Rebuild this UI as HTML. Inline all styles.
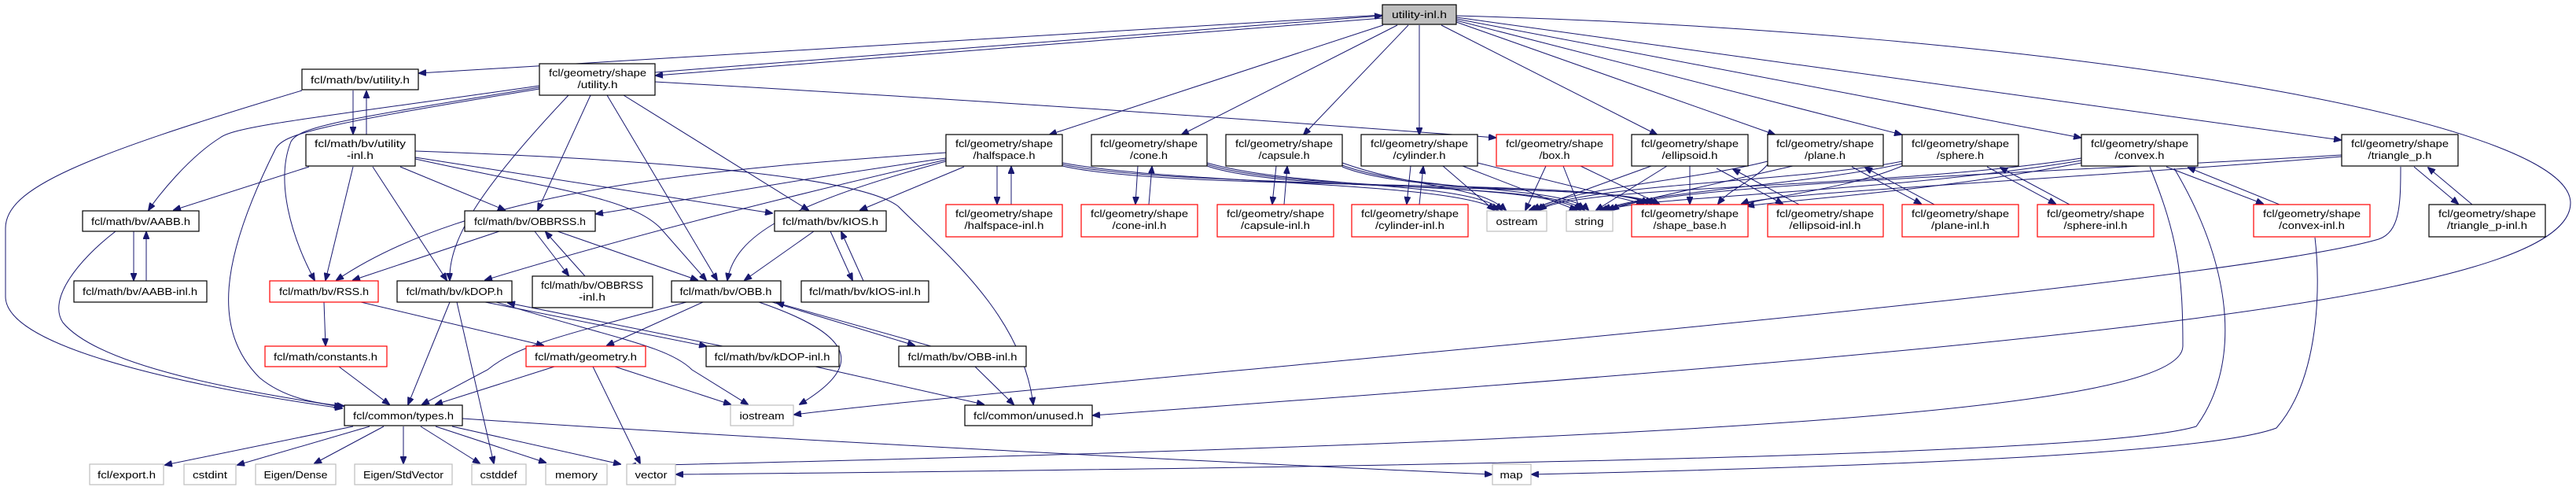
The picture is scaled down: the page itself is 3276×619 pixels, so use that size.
<!DOCTYPE html>
<html><head><meta charset="utf-8"><style>
html,body{margin:0;padding:0;background:#fff;}
svg{display:block;}
text{font-family:"Liberation Sans",sans-serif;font-size:13px;fill:#000;text-anchor:middle;}
.n{fill:#fff;stroke:#000;stroke-width:1.2;}
.r{fill:#fff;stroke:#ff0000;stroke-width:1.2;}
.g{fill:#fff;stroke:#bfbfbf;stroke-width:1.2;}
.e path,.e line{fill:none;stroke:#191970;stroke-width:1;marker-end:url(#a);}
</style></head><body>
<svg width="3276" height="619" viewBox="0 0 3276 619" xmlns="http://www.w3.org/2000/svg">
<defs><marker id="a" markerWidth="10" markerHeight="8" refX="9" refY="4" orient="auto" markerUnits="userSpaceOnUse"><path d="M0,0 L10,4 L0,8 z" fill="#191970" stroke="#191970"/></marker></defs>
<g class="e">
<!-- top node edges -->
<path d="M1758,19 L533,93"/>
<path d="M1758,23 L834,96"/>
<path d="M833,92 L1757,20"/>
<path d="M1759,32 L1335,171"/>
<path d="M1777,32 L1503,171"/>
<path d="M1791,32 L1658,171"/>
<path d="M1805,32 L1805,171"/>
<path d="M1833,32 L2107,171"/>
<path d="M1852,28 L2257,171"/>
<path d="M1852,26 L2418,171"/>
<path d="M1852,24 L2646,175"/>
<path d="M1852,22 L2977,178"/>
<path d="M1852,20 C2600,40 3269,150 3269,258 C3269,380 2600,440 1390,528"/>
<!-- bv/utility.h -->
<path d="M384,115 C100,200 7,240 7,290 L7,377 C7,450 300,500 435,519"/>
<path d="M449,115 L449,170"/>
<path d="M466,171 L466,116"/>
<!-- shape/utility.h -->
<path d="M686,109 C400,150 300,160 280,175 C240,200 200,250 189,267"/>
<path d="M686,111 C450,150 380,160 370,180 C350,230 370,300 400,356"/>
<path d="M686,113 C400,160 360,170 350,190 C280,330 270,420 330,480 C360,505 400,513 437,516"/>
<path d="M723,121 C620,230 570,300 572,356"/>
<path d="M751,121 L684,267"/>
<path d="M772,121 L912,356"/>
<path d="M793,121 L1028,267"/>
<path d="M833,104 C1300,130 1700,160 1902,175"/>
<!-- bv/utility-inl.h -->
<path d="M393,212 L221,267"/>
<path d="M449,212 L414,356"/>
<path d="M474,212 L568,356"/>
<path d="M509,212 L642,267"/>
<path d="M528,202 C700,240 800,250 840,290 L898,356"/>
<path d="M528,200 L982,271"/>
<path d="M528,192 C900,205 1100,230 1142,262 C1200,320 1300,400 1314,514"/>
<!-- AABB -->
<path d="M170,294 L170,356"/>
<path d="M186,357 L186,295"/>
<path d="M147,294 C100,330 60,380 80,410 C130,470 330,500 434,517"/>
<!-- OBBRSS -->
<path d="M635,294 L449,356"/>
<path d="M680,294 L723,350"/>
<path d="M744,351 L694,295"/>
<path d="M709,294 L887,356"/>
<!-- kIOS -->
<path d="M1035,294 L947,356"/>
<path d="M1056,294 L1084,356"/>
<path d="M1098,357 L1070,295"/>
<!-- RSS -->
<path d="M412,384 L414,439"/>
<path d="M459,384 L691,439"/>
<!-- kDOP -->
<path d="M572,384 L519,514"/>
<path d="M581,384 L628,589"/>
<path d="M617,384 L898,440"/>
<path d="M919,440 L646,385"/>
<path d="M631,384 C780,430 850,440 880,470 L951,514"/>
<!-- OBB -->
<path d="M873,384 C700,430 656,441 620,470 L537,514"/>
<path d="M894,384 L772,439"/>
<path d="M965,384 C1100,430 1090,470 1017,514"/>
<path d="M982,384 L1163,439"/>
<path d="M1184,440 L988,385"/>
<path d="M1240,466 L1289,514"/>
<path d="M1037,466 L1251,514"/>
<!-- constants, geometry -->
<path d="M431,466 L495,514"/>
<path d="M705,466 L554,514"/>
<path d="M782,466 L929,514"/>
<path d="M754,466 L814,589"/>
<!-- types -->
<path d="M449,542 L210,591"/>
<path d="M470,542 L302,591"/>
<path d="M488,542 L400,589"/>
<path d="M513,542 L513,589"/>
<path d="M535,542 L610,589"/>
<path d="M554,542 L694,588"/>
<path d="M575,542 L789,590"/>
<path d="M588,532 C1000,560 1600,590 1897,603"/>
<!-- triangle_p, convex long edges -->
<path d="M3053,212 C3053,260 3052,295 3025,304 C2800,370 1300,490 1010,527"/>
<path d="M2734,212 C2770,300 2776,350 2776,440 C2776,520 2200,560 800,592"/>
<path d="M2765,214 C2846,350 2846,470 2793,542 C2700,570 2200,590 860,603"/>
<path d="M2944,302 C2951,360 2951,480 2895,544 C2800,580 2300,595 1948,603"/>
<!-- halfspace -->
<path d="M1203,194 C900,215 600,240 428,356"/>
<path d="M1203,201 C1000,230 900,250 758,272"/>
<path d="M1203,203 C1000,250 800,300 617,356"/>
<path d="M1203,205 C1000,260 935,300 925,356"/>
<path d="M1226,212 L1094,267"/>
<path d="M1268,211 L1268,259"/>
<path d="M1286,260 L1286,212"/>
<path d="M1351,207 C1500,235 1850,230 1905,267"/>
<path d="M1351,209 C1500,240 1950,225 2010,267"/>
<path d="M1351,211 C1500,245 2050,225 2095,259"/>
<!-- cone -->
<path d="M1447,211 L1444,259"/>
<path d="M1461,260 L1465,212"/>
<path d="M1535,207 C1650,240 1870,230 1910,267"/>
<path d="M1535,209 C1650,245 1970,230 2015,267"/>
<path d="M1535,211 C1650,250 2060,230 2100,259"/>
<!-- capsule -->
<path d="M1623,211 L1618,259"/>
<path d="M1633,260 L1637,212"/>
<path d="M1707,207 C1800,240 1880,235 1915,267"/>
<path d="M1707,210 C1800,245 1990,235 2020,267"/>
<path d="M1707,212 C1800,250 2070,235 2105,259"/>
<!-- cylinder -->
<path d="M1794,211 L1789,259"/>
<path d="M1805,260 L1810,212"/>
<path d="M1835,211 L1900,267"/>
<path d="M1860,211 L2005,267"/>
<path d="M1879,207 L2090,259"/>
<!-- box -->
<path d="M1966,211 L1940,267"/>
<path d="M1988,211 L2010,267"/>
<path d="M2010,211 L2110,259"/>
<!-- ellipsoid -->
<path d="M2100,211 L1945,267"/>
<path d="M2120,211 L2030,267"/>
<path d="M2149,211 L2149,259"/>
<path d="M2183,214 L2267,259"/>
<path d="M2288,260 L2204,215"/>
<!-- plane -->
<path d="M2248,205 C2150,230 1990,240 1950,267"/>
<path d="M2280,211 L2035,267"/>
<path d="M2248,209 C2230,230 2200,240 2185,259"/>
<path d="M2355,212 L2443,259"/>
<path d="M2460,260 L2372,213"/>
<!-- sphere -->
<path d="M2419,205 C2300,230 2000,235 1955,267"/>
<path d="M2419,208 C2300,235 2080,245 2040,267"/>
<path d="M2419,211 C2350,240 2250,250 2215,260"/>
<path d="M2527,212 L2614,259"/>
<path d="M2632,260 L2544,213"/>
<!-- convex -->
<path d="M2647,201 C2400,240 2000,235 1958,267"/>
<path d="M2647,204 C2400,245 2080,250 2045,267"/>
<path d="M2647,207 C2450,245 2260,255 2222,262"/>
<path d="M2755,212 L2878,259"/>
<path d="M2899,260 L2783,213"/>
<!-- triangle_p -->
<path d="M2978,197 C2600,220 2100,235 2050,267"/>
<path d="M2978,199 C2600,230 2250,245 2215,259"/>
<path d="M3070,212 L3126,259"/>
<path d="M3144,260 L3088,213"/>
</g>
<!-- nodes -->
<rect class="n" x="1758" y="6" width="94" height="25" style="fill:#bfbfbf"/><text x="1805" y="23" textLength="70" lengthAdjust="spacingAndGlyphs">utility-inl.h</text>
<rect class="n" x="384" y="88" width="148" height="26"/><text x="458" y="106" textLength="126" lengthAdjust="spacingAndGlyphs">fcl/math/bv/utility.h</text>
<rect class="n" x="686" y="81" width="147" height="40"/><text x="760" y="97" textLength="124" lengthAdjust="spacingAndGlyphs">fcl/geometry/shape</text><text x="760" y="112" textLength="51" lengthAdjust="spacingAndGlyphs">/utility.h</text>
<rect class="n" x="389" y="171" width="139" height="40"/><text x="458" y="187" textLength="116" lengthAdjust="spacingAndGlyphs">fcl/math/bv/utility</text><text x="458" y="202" textLength="34" lengthAdjust="spacingAndGlyphs">-inl.h</text>
<rect class="n" x="105" y="268" width="148" height="26"/><text x="179" y="286" textLength="126" lengthAdjust="spacingAndGlyphs">fcl/math/bv/AABB.h</text>
<rect class="n" x="94" y="357" width="169" height="27"/><text x="178" y="375" textLength="146" lengthAdjust="spacingAndGlyphs">fcl/math/bv/AABB-inl.h</text>
<rect class="n" x="591" y="268" width="166" height="26"/><text x="674" y="286" textLength="142" lengthAdjust="spacingAndGlyphs">fcl/math/bv/OBBRSS.h</text>
<rect class="n" x="985" y="268" width="142" height="26"/><text x="1056" y="286" textLength="122" lengthAdjust="spacingAndGlyphs">fcl/math/bv/kIOS.h</text>
<rect class="r" x="343" y="357" width="138" height="27"/><text x="412" y="375" textLength="114" lengthAdjust="spacingAndGlyphs">fcl/math/bv/RSS.h</text>
<rect class="n" x="505" y="357" width="146" height="27"/><text x="578" y="375" textLength="123" lengthAdjust="spacingAndGlyphs">fcl/math/bv/kDOP.h</text>
<rect class="n" x="677" y="351" width="153" height="40"/><text x="753" y="367" textLength="130" lengthAdjust="spacingAndGlyphs">fcl/math/bv/OBBRSS</text><text x="753" y="382" textLength="34" lengthAdjust="spacingAndGlyphs">-inl.h</text>
<rect class="n" x="854" y="357" width="139" height="27"/><text x="923" y="375" textLength="117" lengthAdjust="spacingAndGlyphs">fcl/math/bv/OBB.h</text>
<rect class="n" x="1019" y="357" width="162" height="27"/><text x="1100" y="375" textLength="142" lengthAdjust="spacingAndGlyphs">fcl/math/bv/kIOS-inl.h</text>
<rect class="r" x="337" y="440" width="155" height="26"/><text x="414" y="458" textLength="132" lengthAdjust="spacingAndGlyphs">fcl/math/constants.h</text>
<rect class="r" x="669" y="440" width="152" height="26"/><text x="745" y="458" textLength="130" lengthAdjust="spacingAndGlyphs">fcl/math/geometry.h</text>
<rect class="n" x="898" y="440" width="169" height="26"/><text x="982" y="458" textLength="147" lengthAdjust="spacingAndGlyphs">fcl/math/bv/kDOP-inl.h</text>
<rect class="n" x="1143" y="440" width="162" height="26"/><text x="1224" y="458" textLength="139" lengthAdjust="spacingAndGlyphs">fcl/math/bv/OBB-inl.h</text>
<rect class="g" x="929" y="515" width="80" height="26"/><text x="969" y="533" textLength="57" lengthAdjust="spacingAndGlyphs">iostream</text>
<rect class="n" x="438" y="515" width="150" height="26"/><text x="513" y="533" textLength="128" lengthAdjust="spacingAndGlyphs">fcl/common/types.h</text>
<rect class="n" x="1227" y="515" width="162" height="26"/><text x="1308" y="533" textLength="140" lengthAdjust="spacingAndGlyphs">fcl/common/unused.h</text>
<rect class="g" x="114" y="590" width="94" height="26"/><text x="161" y="608" textLength="74" lengthAdjust="spacingAndGlyphs">fcl/export.h</text>
<rect class="g" x="234" y="590" width="66" height="26"/><text x="267" y="608" textLength="44" lengthAdjust="spacingAndGlyphs">cstdint</text>
<rect class="g" x="325" y="590" width="102" height="26"/><text x="376" y="608" textLength="81" lengthAdjust="spacingAndGlyphs">Eigen/Dense</text>
<rect class="g" x="451" y="590" width="124" height="26"/><text x="513" y="608" textLength="102" lengthAdjust="spacingAndGlyphs">Eigen/StdVector</text>
<rect class="g" x="600" y="590" width="69" height="26"/><text x="634" y="608" textLength="47" lengthAdjust="spacingAndGlyphs">cstddef</text>
<rect class="g" x="694" y="590" width="78" height="26"/><text x="733" y="608" textLength="54" lengthAdjust="spacingAndGlyphs">memory</text>
<rect class="g" x="797" y="590" width="62" height="26"/><text x="828" y="608" textLength="41" lengthAdjust="spacingAndGlyphs">vector</text>
<rect class="g" x="1898" y="590" width="49" height="26"/><text x="1922" y="608" textLength="29" lengthAdjust="spacingAndGlyphs">map</text>
<!-- shape row -->
<rect class="n" x="1203" y="171" width="148" height="40"/><text x="1277" y="187" textLength="124" lengthAdjust="spacingAndGlyphs">fcl/geometry/shape</text><text x="1277" y="202" textLength="79" lengthAdjust="spacingAndGlyphs">/halfspace.h</text>
<rect class="n" x="1388" y="171" width="147" height="40"/><text x="1461" y="187" textLength="124" lengthAdjust="spacingAndGlyphs">fcl/geometry/shape</text><text x="1461" y="202" textLength="48" lengthAdjust="spacingAndGlyphs">/cone.h</text>
<rect class="n" x="1559" y="171" width="148" height="40"/><text x="1633" y="187" textLength="124" lengthAdjust="spacingAndGlyphs">fcl/geometry/shape</text><text x="1633" y="202" textLength="65" lengthAdjust="spacingAndGlyphs">/capsule.h</text>
<rect class="n" x="1731" y="171" width="148" height="40"/><text x="1805" y="187" textLength="124" lengthAdjust="spacingAndGlyphs">fcl/geometry/shape</text><text x="1805" y="202" textLength="67" lengthAdjust="spacingAndGlyphs">/cylinder.h</text>
<rect class="r" x="1903" y="171" width="148" height="40"/><text x="1977" y="187" textLength="124" lengthAdjust="spacingAndGlyphs">fcl/geometry/shape</text><text x="1977" y="202" textLength="39" lengthAdjust="spacingAndGlyphs">/box.h</text>
<rect class="n" x="2075" y="171" width="148" height="40"/><text x="2149" y="187" textLength="124" lengthAdjust="spacingAndGlyphs">fcl/geometry/shape</text><text x="2149" y="202" textLength="71" lengthAdjust="spacingAndGlyphs">/ellipsoid.h</text>
<rect class="n" x="2248" y="171" width="147" height="40"/><text x="2321" y="187" textLength="124" lengthAdjust="spacingAndGlyphs">fcl/geometry/shape</text><text x="2321" y="202" textLength="52" lengthAdjust="spacingAndGlyphs">/plane.h</text>
<rect class="n" x="2419" y="171" width="148" height="40"/><text x="2493" y="187" textLength="124" lengthAdjust="spacingAndGlyphs">fcl/geometry/shape</text><text x="2493" y="202" textLength="60" lengthAdjust="spacingAndGlyphs">/sphere.h</text>
<rect class="n" x="2647" y="171" width="148" height="40"/><text x="2721" y="187" textLength="124" lengthAdjust="spacingAndGlyphs">fcl/geometry/shape</text><text x="2721" y="202" textLength="63" lengthAdjust="spacingAndGlyphs">/convex.h</text>
<rect class="n" x="2978" y="171" width="148" height="40"/><text x="3052" y="187" textLength="124" lengthAdjust="spacingAndGlyphs">fcl/geometry/shape</text><text x="3052" y="202" textLength="81" lengthAdjust="spacingAndGlyphs">/triangle_p.h</text>
<!-- inl row -->
<rect class="r" x="1203" y="260" width="148" height="41"/><text x="1277" y="276" textLength="124" lengthAdjust="spacingAndGlyphs">fcl/geometry/shape</text><text x="1277" y="291" textLength="101" lengthAdjust="spacingAndGlyphs">/halfspace-inl.h</text>
<rect class="r" x="1375" y="260" width="148" height="41"/><text x="1449" y="276" textLength="124" lengthAdjust="spacingAndGlyphs">fcl/geometry/shape</text><text x="1449" y="291" textLength="69" lengthAdjust="spacingAndGlyphs">/cone-inl.h</text>
<rect class="r" x="1548" y="260" width="148" height="41"/><text x="1622" y="276" textLength="124" lengthAdjust="spacingAndGlyphs">fcl/geometry/shape</text><text x="1622" y="291" textLength="88" lengthAdjust="spacingAndGlyphs">/capsule-inl.h</text>
<rect class="r" x="1719" y="260" width="148" height="41"/><text x="1793" y="276" textLength="124" lengthAdjust="spacingAndGlyphs">fcl/geometry/shape</text><text x="1793" y="291" textLength="88" lengthAdjust="spacingAndGlyphs">/cylinder-inl.h</text>
<rect class="g" x="1891" y="268" width="76" height="26"/><text x="1929" y="286" textLength="53" lengthAdjust="spacingAndGlyphs">ostream</text>
<rect class="g" x="1992" y="268" width="59" height="26"/><text x="2021" y="286" textLength="37" lengthAdjust="spacingAndGlyphs">string</text>
<rect class="r" x="2075" y="260" width="148" height="41"/><text x="2149" y="276" textLength="124" lengthAdjust="spacingAndGlyphs">fcl/geometry/shape</text><text x="2149" y="291" textLength="93" lengthAdjust="spacingAndGlyphs">/shape_base.h</text>
<rect class="r" x="2248" y="260" width="147" height="41"/><text x="2321" y="276" textLength="124" lengthAdjust="spacingAndGlyphs">fcl/geometry/shape</text><text x="2321" y="291" textLength="91" lengthAdjust="spacingAndGlyphs">/ellipsoid-inl.h</text>
<rect class="r" x="2419" y="260" width="148" height="41"/><text x="2493" y="276" textLength="124" lengthAdjust="spacingAndGlyphs">fcl/geometry/shape</text><text x="2493" y="291" textLength="74" lengthAdjust="spacingAndGlyphs">/plane-inl.h</text>
<rect class="r" x="2591" y="260" width="148" height="41"/><text x="2665" y="276" textLength="124" lengthAdjust="spacingAndGlyphs">fcl/geometry/shape</text><text x="2665" y="291" textLength="81" lengthAdjust="spacingAndGlyphs">/sphere-inl.h</text>
<rect class="r" x="2866" y="260" width="148" height="41"/><text x="2940" y="276" textLength="124" lengthAdjust="spacingAndGlyphs">fcl/geometry/shape</text><text x="2940" y="291" textLength="84" lengthAdjust="spacingAndGlyphs">/convex-inl.h</text>
<rect class="n" x="3089" y="260" width="148" height="41"/><text x="3163" y="276" textLength="124" lengthAdjust="spacingAndGlyphs">fcl/geometry/shape</text><text x="3163" y="291" textLength="102" lengthAdjust="spacingAndGlyphs">/triangle_p-inl.h</text>
</svg>
</body></html>
